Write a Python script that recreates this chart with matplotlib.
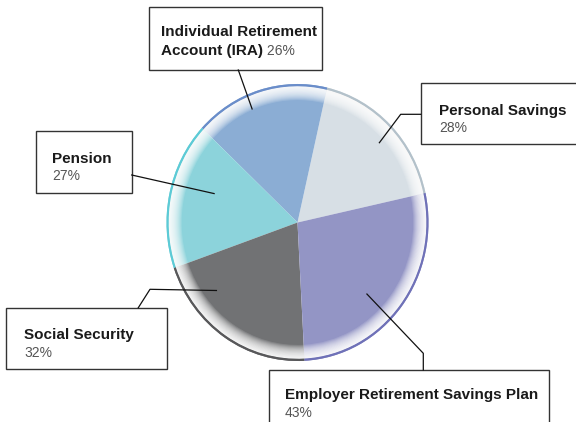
import matplotlib
matplotlib.use("Agg")
import numpy as np
import matplotlib.pyplot as plt
from matplotlib.transforms import Affine2D
from matplotlib.patches import Rectangle

plt.rcParams['font.family'] = ['Liberation Sans', 'DejaVu Sans']

# slices, counter-clockwise starting at the right
names = ["Personal Savings", "Individual Retirement\nAccount (IRA)", "Pension",
         "Social Security", "Employer Retirement Savings Plan"]
pcts = [28, 26, 27, 32, 43]
fills = ["#d7dfe5", "#8badd4", "#8cd3db", "#717274", "#9395c5"]
rims = ["#b3c1ca", "#6a8dca", "#5ccbd6", "#58585a", "#6f71b8"]

START = 12.3

# label layout in pixels: box (x0, y0, x1, y1), text x, baselines, leader path,
# and where the leader ends inside the slice (fraction of the sweep, radius)
layout = {
    "Personal Savings": dict(box=(420.7, 83.3, 580, 144), tx=439, base=(115, 131.7),
                             path=[(420.7, 114.3), (400.7, 114.3)], tip=(0.47, 0.85)),
    "Individual Retirement\nAccount (IRA)": dict(box=(149, 6.7, 322.3, 70), tx=160.7, base=(36, 55),
                             path=[(238.3, 70)], tip=(0.60, 0.89)),
    "Pension": dict(box=(36, 131, 131.7, 192.7), tx=52.3, base=(163.3, 180),
                    path=[(131.7, 175)], tip=(0.40, 0.67)),
    "Social Security": dict(box=(6.3, 307.7, 167.3, 369.3), tx=24, base=(339, 356.7),
                            path=[(138.3, 307.7), (150, 289.3)], tip=(0.26, 0.79)),
    "Employer Retirement Savings Plan": dict(box=(269.3, 370, 549.3, 430), tx=285, base=(399.3, 416.7),
                            path=[(423.3, 370), (423.3, 353.3)], tip=(0.43, 0.74)),
}

fig = plt.figure(figsize=(5.76, 4.22), dpi=100)
ax = fig.add_axes([0, 0, 1, 1])

# pie lives in unit coords, mapped to a slightly tall ellipse in pixel coords
pie_aff = Affine2D().scale(131, -138.5).translate(297.5, 222.5)
tr = pie_aff + ax.transData

wedges, _ = ax.pie(pcts, colors=fills, startangle=START, radius=1.0,
                   wedgeprops=dict(linewidth=0, transform=tr))

# whitish glow towards the rim
n = 20
for k in range(n):
    depth = 0.10 * ((k + 1) / n) ** 1.5
    ax.pie(pcts, colors=["white"] * len(pcts), startangle=START, radius=0.984,
           wedgeprops=dict(width=depth, alpha=0.14, linewidth=0, transform=tr))

# thin coloured outer edge
ax.pie(pcts, colors=rims, startangle=START, radius=1.0,
       wedgeprops=dict(width=0.016, linewidth=0, transform=tr))

for w, name, p in zip(wedges, names, pcts):
    L = layout[name]
    x0, y0, x1, y1 = L["box"]
    ax.add_patch(Rectangle((x0, y0), x1 - x0, y1 - y0, facecolor="white",
                           edgecolor="#333333", lw=1.0, zorder=4))
    f, r = L["tip"]
    ang = np.radians(w.theta1 + f * (w.theta2 - w.theta1))
    tip = pie_aff.transform((r * np.cos(ang), r * np.sin(ang)))
    pts = np.array(L["path"] + [tuple(tip)])
    ax.plot(pts[:, 0], pts[:, 1], color="#111111", lw=0.9, zorder=5)

    lines = name.split("\n")
    if len(lines) == 1:
        ax.text(L["tx"], L["base"][0], name, fontsize=11, fontweight="bold",
                color="#1a1a1a", va="baseline", zorder=6)
        ax.text(L["tx"], L["base"][1], f"{p}%", fontsize=10, color="#555555",
                va="baseline", zorder=6)
    else:
        ax.text(L["tx"], L["base"][0], lines[0], fontsize=11, fontweight="bold",
                color="#1a1a1a", va="baseline", zorder=6)
        t2 = ax.text(L["tx"], L["base"][1], lines[1], fontsize=11, fontweight="bold",
                     color="#1a1a1a", va="baseline", zorder=6)
        ax.annotate(f" {p}%", xy=(1, 0), xycoords=t2, fontsize=10, color="#555555",
                    va="bottom", ha="left", zorder=6)

ax.set_aspect("auto")
ax.set_xlim(0, 576)
ax.set_ylim(422, 0)
ax.axis("off")

fig.savefig("out.png", dpi=100)
